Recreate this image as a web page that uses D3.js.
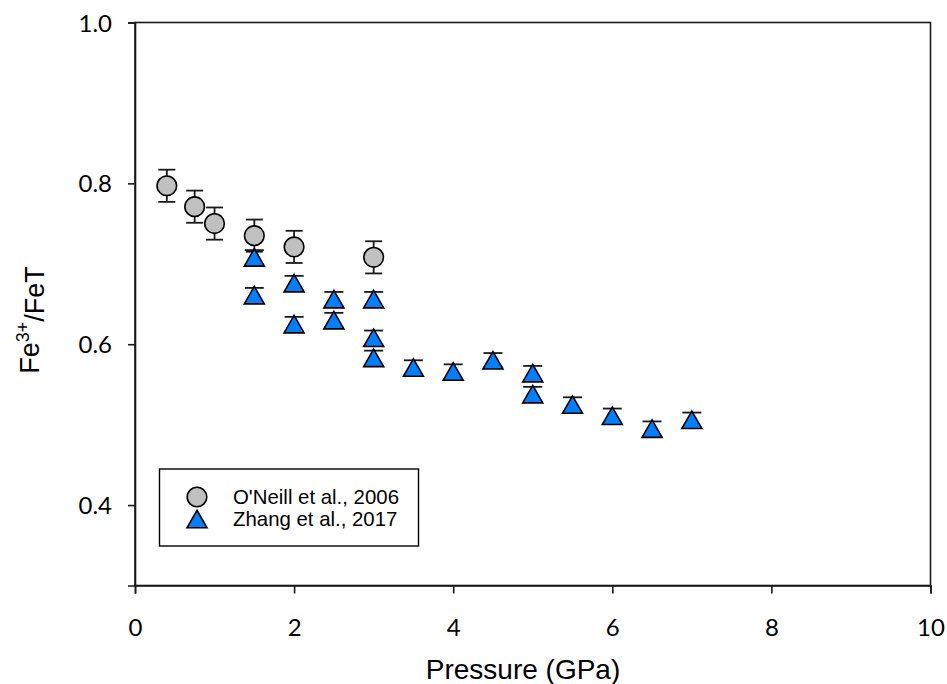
<!DOCTYPE html>
<html>
<head>
<meta charset="utf-8">
<script src="https://cdn.jsdelivr.net/npm/d3@7"></script>
<style>
  html, body { margin: 0; padding: 0; background: #fff; }
  svg { display: block; }
</style>
</head>
<body>
<svg id="chart" width="947" height="684"></svg>
<script>
// O'Neill et al., 2006
const oneillPressure = [0.4, 0.75, 1.0, 1.5, 2.0, 3.0];
const oneillRatio    = [0.797, 0.771, 0.750, 0.735, 0.721, 0.708];
const oneillError    = [0.020, 0.020, 0.020, 0.020, 0.020, 0.020];

// Zhang et al., 2017
const zhangPressure = [1.5, 1.5, 2.0, 2.0, 2.5, 2.5, 3.0, 3.0, 3.0, 3.5, 4.0, 4.5, 5.0, 5.0, 5.5, 6.0, 6.5, 7.0];
const zhangRatio    = [0.708, 0.661, 0.676, 0.625, 0.656, 0.630, 0.656, 0.608, 0.583, 0.571, 0.566, 0.580, 0.564, 0.538, 0.525, 0.511, 0.495, 0.506];
const zhangError    = [0.009, 0.009, 0.009, 0.009, 0.009, 0.009, 0.009, 0.009, 0.009, 0.009, 0.009, 0.009, 0.009, 0.009, 0.009, 0.009, 0.009, 0.009];

const xTicks = [0, 2, 4, 6, 8, 10];
const yTicks = [0.4, 0.6, 0.8, 1.0];
const legendLabels = ["O'Neill et al., 2006", "Zhang et al., 2017"];

const svg = d3.select("#chart");
const plotL = 135, plotR = 930.5, plotT = 22.5, plotB = 585.5;

const x = d3.scaleLinear().domain([0, 10]).range([plotL, plotR]);
const y = d3.scaleLinear().domain([0.3, 1.0]).range([plotB, plotT]);

const ink = "#1a1a1a";
const tickFont = "Lato, 'Open Sans', sans-serif";
const textFont = "Arial, 'Liberation Sans', sans-serif";

// frame
svg.append("rect")
  .attr("x", plotL).attr("y", plotT)
  .attr("width", plotR - plotL).attr("height", plotB - plotT)
  .attr("fill", "none").attr("stroke", ink).attr("stroke-width", 1.6);

// axes
const xAxis = svg.append("g")
  .attr("transform", `translate(0,${plotB})`)
  .call(d3.axisBottom(x).tickValues(xTicks).tickFormat(d3.format("d")).tickSizeOuter(0).tickSize(8).tickPadding(25));
const yAxis = svg.append("g")
  .attr("transform", `translate(${plotL},0)`)
  .call(d3.axisLeft(y).tickValues(yTicks).tickFormat(d3.format(".1f")).tickSizeOuter(0).tickSize(7).tickPadding(16));

[xAxis, yAxis].forEach(g => {
  g.select(".domain").attr("stroke", ink).attr("stroke-width", 1.6);
  g.selectAll(".tick line").attr("stroke", ink).attr("stroke-width", 1.6);
  g.selectAll(".tick text")
    .attr("fill", "#000")
    .style("font-family", tickFont)
    .style("font-size", "24px");
});
yAxis.selectAll(".tick text").attr("dy", "0.36em");

// axis titles
svg.append("text")
  .attr("x", 523).attr("y", 679)
  .attr("text-anchor", "middle")
  .style("font-family", textFont).style("font-size", "28px")
  .text("Pressure (GPa)");

const yTitle = svg.append("text")
  .attr("transform", "translate(39,320) rotate(-90)")
  .attr("text-anchor", "middle")
  .style("font-family", textFont).style("font-size", "27px");
yTitle.append("tspan").text("Fe");
yTitle.append("tspan").attr("dy", "-0.55em").style("font-size", "18px").text("3+");
yTitle.append("tspan").attr("dy", "0.55em").text("/FeT");

// error bars
function drawErrors(px, vy, err, cap) {
  const g = svg.append("g").attr("stroke", ink).attr("stroke-width", 1.8);
  px.forEach((p, i) => {
    const cx = x(p), yHi = y(vy[i] + err[i]), yLo = y(vy[i] - err[i]);
    g.append("line").attr("x1", cx).attr("x2", cx).attr("y1", yHi).attr("y2", yLo);
    g.append("line").attr("x1", cx - cap / 2).attr("x2", cx + cap / 2).attr("y1", yHi).attr("y2", yHi);
    g.append("line").attr("x1", cx - cap / 2).attr("x2", cx + cap / 2).attr("y1", yLo).attr("y2", yLo);
  });
}

const triW = 20, triH = 17.5;
const triPath = `M0,${-triH / 2}L${triW / 2},${triH / 2}L${-triW / 2},${triH / 2}Z`;

// O'Neill series: grey circles
drawErrors(oneillPressure, oneillRatio, oneillError, 17);
svg.append("g").selectAll("circle")
  .data(oneillPressure.map((p, i) => [p, oneillRatio[i]]))
  .join("circle")
  .attr("cx", d => x(d[0])).attr("cy", d => y(d[1])).attr("r", 9.8)
  .attr("fill", "#c0c0c0").attr("stroke", "#000").attr("stroke-width", 1.6);

// Zhang series: blue triangles
drawErrors(zhangPressure, zhangRatio, zhangError, 19);
svg.append("g").selectAll("path")
  .data(zhangPressure.map((p, i) => [p, zhangRatio[i]]))
  .join("path")
  .attr("transform", d => `translate(${x(d[0])},${y(d[1])})`)
  .attr("d", triPath)
  .attr("fill", "#0080ff").attr("stroke", "#000").attr("stroke-width", 1.6)
  .attr("stroke-linejoin", "miter");

// legend
const lg = svg.append("g");
lg.append("rect")
  .attr("x", 159.5).attr("y", 469).attr("width", 259).attr("height", 77)
  .attr("fill", "#fff").attr("stroke", "#000").attr("stroke-width", 1.4);
lg.append("circle").attr("cx", 197).attr("cy", 497).attr("r", 9.8)
  .attr("fill", "#c0c0c0").attr("stroke", "#000").attr("stroke-width", 1.6);
lg.append("path").attr("transform", "translate(197,519)").attr("d", triPath)
  .attr("fill", "#0080ff").attr("stroke", "#000").attr("stroke-width", 1.6);
lg.selectAll("text").data(legendLabels).join("text")
  .attr("x", 233).attr("y", (d, i) => 503.5 + i * 22.5)
  .style("font-family", textFont).style("font-size", "20.4px")
  .text(d => d);
</script>
</body>
</html>
